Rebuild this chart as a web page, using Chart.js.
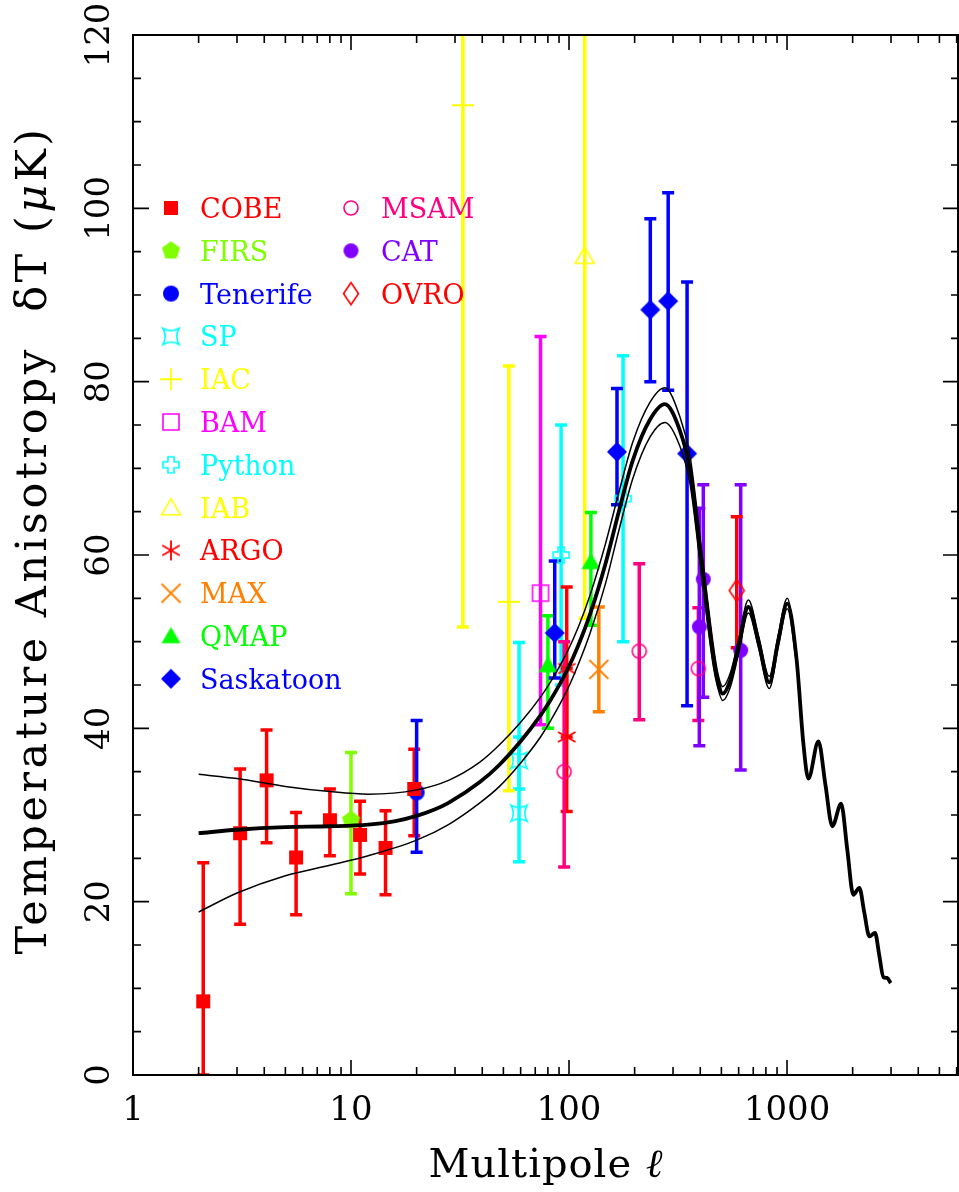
<!DOCTYPE html>
<html lang="pt-br">
<head>
<meta charset="utf-8">
<title>Anisotropia da radiação cósmica de fundo</title>
<script src="https://cdn.jsdelivr.net/npm/chart.js@4.4.1/dist/chart.umd.min.js"></script>
<style>
    body { margin: 0; background: #ffffff; overflow: hidden; }
    canvas { display: block; }
</style>
</head>
<body>
<canvas id="grafico" width="959" height="1192"></canvas>
<script>
    // Dados: [multipolo l, dT, limite inferior, limite superior] (μK)
    var COBE = [[2.1, 8.5, 0, 24.5], [3.1, 27.9, 17.4, 35.3], [4.1, 34.0, 26.8, 39.8], [5.6, 25.1, 18.5, 30.3],
                [8.0, 29.4, 25.3, 33.0], [11.0, 27.7, 23.2, 31.6], [14.4, 26.2, 20.8, 30.5], [19.5, 33.0, 27.6, 37.6]];
    var FIRS = [[10, 29.4, 20.9, 37.2]];
    var TENERIFE = [[20, 32.6, 25.7, 40.9]];
    var SP = [[59, 30.2, 24.6, 49.9], [59, 36.3, 33.0, 39.0]];
    var IAC = [[32.6, 111.9, 51.7, 140], [53, 54.6, 32.8, 81.8]];
    var BAM = [[74, 55.6, 40.4, 85.2]];
    var PYTHON = [[92, 60.0, 45.0, 75.0], [177, 66.5, 50.0, 83.0]];
    var IAB = [[118, 94.5, 52.7, 140]];
    var ARGO = [[97.6, 39.0, 30.4, 46.9], [97.6, 46.9, 39.0, 56.3]];
    var MAX = [[137, 46.8, 41.9, 54.0]];
    var QMAP = [[80, 47.3, 40.0, 53.0], [126, 59.2, 51.9, 64.9]];
    var SASKATOON = [[86, 51.0, 45.8, 59.3], [166, 71.9, 65.8, 79.2], [236, 88.3, 80.0, 98.8],
                     [285, 89.3, 79.0, 101.8], [348, 71.7, 42.6, 91.5]];
    var MSAM = [[95, 35.0, 24.0, 50.0], [210, 48.9, 41.0, 59.0], [392, 46.9, 40.9, 53.9]];
    var CAT = [[396, 51.7, 38.0, 65.4], [413, 57.2, 43.6, 68.1], [613, 49.0, 35.2, 68.1]];
    var OVRO = [[588, 55.9, 49.3, 64.4]];

    // Curva teórica (linha grossa) e faixa (linhas finas)
    var teoriaL = [2, 3, 5, 8, 12, 16, 20, 24, 28, 39, 48, 60, 74, 82, 98, 110, 125, 147, 170, 196, 235, 275,
                   322, 359, 406, 459, 480, 507, 550, 598, 665, 740, 829, 910, 1003, 1107, 1188, 1253, 1393, 1500, 1614, 1770,
                   1890, 2014, 2147, 2260, 2387, 2533, 2650, 2766, 2880, 2990];
    var teoriaT = [27.9, 28.3, 28.6, 28.7, 28.9, 29.3, 29.9, 30.6, 31.4, 33.8, 35.8, 38.5, 41.5, 43.2, 46.7, 49.5, 53.2, 59.0, 65.2, 70.9, 75.6, 77.4,
                   74.4, 69.8, 59.0, 48.3, 45.6, 44.0, 45.6, 49.3, 54.0, 50.0, 45.3, 50.0, 54.4, 47.9, 38.3, 34.2, 38.5, 33.5, 28.7, 31.3,
                   26.0, 20.8, 21.6, 18.8, 16.0, 16.4, 13.8, 11.3, 11.2, 10.6];
    var faixaL = [2, 3, 5, 8, 12, 20, 28, 39, 48, 60, 74, 82, 98, 110, 125, 147, 170, 196, 235, 275,
                  322, 359, 406, 459, 480, 507, 550, 598, 665, 740, 829, 910, 1003, 1107];
    var faixaSup = [34.7, 34.2, 33.3, 32.7, 32.4, 32.9, 34.0, 36.1, 38.1, 40.7, 43.6, 45.3, 48.8, 51.6, 55.4, 61.3, 67.4, 73.0, 77.6, 79.3,
                    76.0, 71.4, 60.5, 49.6, 46.5, 44.8, 46.4, 50.1, 54.8, 50.7, 46.0, 50.7, 55.0, 48.3];
    var faixaInf = [18.8, 21.0, 23.0, 24.2, 25.3, 27.1, 28.9, 31.4, 33.3, 36.0, 39.0, 40.8, 44.4, 47.3, 51.0, 56.7, 63.0, 68.8, 73.6, 75.3,
                    72.6, 68.2, 57.5, 47.2, 44.8, 43.2, 44.8, 48.5, 53.3, 49.3, 44.6, 49.3, 53.8, 47.5];

    var rotulosX = ['1', '10', '100', '1000'];
    var valoresX = [1, 10, 100, 1000];
    var rotulosY = ['0', '20', '40', '60', '80', '100', '120'];
    var valoresY = [0, 20, 40, 60, 80, 100, 120];

    var xMin = 1, xMax = 6150, yMin = 0, yMax = 120;
    var fonte = '"DejaVu Serif", "Liberation Serif", serif';

    // Desenha um marcador num canvas pequeno (usado como pointStyle e na legenda)
    function criaMarcador(forma, cor, tam, cheio, esp) {
        var pad = 4;
        var w = Math.ceil(tam + pad * 2);
        var c = document.createElement('canvas');
        c.width = w; c.height = w;
        var g = c.getContext('2d');
        var m = w / 2, r = tam / 2, i, a;
        g.strokeStyle = cor;
        g.fillStyle = cor;
        g.lineWidth = esp || 1.6;
        g.beginPath();
        if (forma == 'quadrado') {
            g.rect(m - r, m - r, tam, tam);
        } else if (forma == 'circulo') {
            g.arc(m, m, r, 0, Math.PI * 2);
        } else if (forma == 'pentagono') {
            for (i = 0; i < 5; i++) {
                a = -Math.PI / 2 + i * 2 * Math.PI / 5;
                if (i == 0) g.moveTo(m + r * Math.cos(a), m + r * Math.sin(a));
                else g.lineTo(m + r * Math.cos(a), m + r * Math.sin(a));
            }
            g.closePath();
        } else if (forma == 'triangulo') {
            var h = tam * 0.85;
            g.moveTo(m, m - h * 0.55);
            g.lineTo(m + r, m + h * 0.45);
            g.lineTo(m - r, m + h * 0.45);
            g.closePath();
        } else if (forma == 'losango') {
            g.moveTo(m, m - r); g.lineTo(m + r, m); g.lineTo(m, m + r); g.lineTo(m - r, m);
            g.closePath();
        } else if (forma == 'losangoAlto') {
            g.moveTo(m, m - r); g.lineTo(m + r * 0.68, m); g.lineTo(m, m + r); g.lineTo(m - r * 0.68, m);
            g.closePath();
        } else if (forma == 'mais') {
            g.moveTo(m - r, m); g.lineTo(m + r, m);
            g.moveTo(m, m - r); g.lineTo(m, m + r);
        } else if (forma == 'xis') {
            g.moveTo(m - r, m - r); g.lineTo(m + r, m + r);
            g.moveTo(m + r, m - r); g.lineTo(m - r, m + r);
        } else if (forma == 'asterisco') {
            g.moveTo(m, m - r); g.lineTo(m, m + r);
            g.moveTo(m - r * 0.87, m - r * 0.5); g.lineTo(m + r * 0.87, m + r * 0.5);
            g.moveTo(m + r * 0.87, m - r * 0.5); g.lineTo(m - r * 0.87, m + r * 0.5);
        } else if (forma == 'estrelaSP') {
            var k = r * 0.55;
            g.moveTo(m - r, m - r);
            g.quadraticCurveTo(m, m - r + k, m + r, m - r);
            g.quadraticCurveTo(m + r - k, m, m + r, m + r);
            g.quadraticCurveTo(m, m + r - k, m - r, m + r);
            g.quadraticCurveTo(m - r + k, m, m - r, m - r);
            g.closePath();
        } else if (forma == 'cruz') {
            a = r * 0.38;
            g.moveTo(m - a, m - r); g.lineTo(m + a, m - r); g.lineTo(m + a, m - a); g.lineTo(m + r, m - a);
            g.lineTo(m + r, m + a); g.lineTo(m + a, m + a); g.lineTo(m + a, m + r); g.lineTo(m - a, m + r);
            g.lineTo(m - a, m + a); g.lineTo(m - r, m + a); g.lineTo(m - r, m - a); g.lineTo(m - a, m - a);
            g.closePath();
        }
        if (cheio) g.fill(); else g.stroke();
        return c;
    }

    // Experimentos: nome, dados, cor, marcador, posição na legenda [coluna, linha]
    var experimentos = [
        { nome: 'COBE', dados: COBE, cor: '#ff0000', marca: criaMarcador('quadrado', '#ff0000', 14, true), leg: [0, 0] },
        { nome: 'FIRS', dados: FIRS, cor: '#80ff00', marca: criaMarcador('pentagono', '#80ff00', 19, true), leg: [0, 1] },
        { nome: 'Tenerife', dados: TENERIFE, cor: '#0000ff', marca: criaMarcador('circulo', '#0000ff', 16, true), leg: [0, 2] },
        { nome: 'SP', dados: SP, cor: '#00ffff', marca: criaMarcador('estrelaSP', '#00ffff', 16), leg: [0, 3] },
        { nome: 'IAC', dados: IAC, cor: '#ffff00', marca: criaMarcador('mais', '#ffff00', 22, false, 1.8), leg: [0, 4] },
        { nome: 'BAM', dados: BAM, cor: '#ff00ff', marca: criaMarcador('quadrado', '#ff00ff', 16), leg: [0, 5] },
        { nome: 'Python', dados: PYTHON, cor: '#00ffff', marca: criaMarcador('cruz', '#00ffff', 16), leg: [0, 6] },
        { nome: 'IAB', dados: IAB, cor: '#ffff00', marca: criaMarcador('triangulo', '#ffff00', 19), leg: [0, 7] },
        { nome: 'ARGO', dados: ARGO, cor: '#ff0000', marca: criaMarcador('asterisco', '#ff0000', 20, false, 1.8), leg: [0, 8] },
        { nome: 'MAX', dados: MAX, cor: '#ff8000', marca: criaMarcador('xis', '#ff8000', 19, false, 1.8), leg: [0, 9] },
        { nome: 'QMAP', dados: QMAP, cor: '#00ff00', marca: criaMarcador('triangulo', '#00ff00', 19, true), leg: [0, 10] },
        { nome: 'Saskatoon', dados: SASKATOON, cor: '#0000ff', marca: criaMarcador('losango', '#0000ff', 20, true), leg: [0, 11] },
        { nome: 'MSAM', dados: MSAM, cor: '#ff0080', marca: criaMarcador('circulo', '#ff0080', 14), leg: [1, 0] },
        { nome: 'CAT', dados: CAT, cor: '#8000ff', marca: criaMarcador('circulo', '#8000ff', 15, true), leg: [1, 1] },
        { nome: 'OVRO', dados: OVRO, cor: '#ff0000', marca: criaMarcador('losangoAlto', '#ff0000', 22), leg: [1, 2] }
    ];

    var datasets = [];
    experimentos.forEach(function(e) {
        datasets.push({
            label: e.nome,
            data: e.dados.map(function(p) { return { x: p[0], y: p[1], lo: p[2], hi: p[3] }; }),
            pointStyle: e.marca,
            pointRadius: 8,
            cor: e.cor,
            erro: true,
            order: 2
        });
    });

    function serie(ls, ts) {
        return ls.map(function(l, i) { return { x: l, y: ts[i] }; });
    }
    datasets.push({ label: 'faixa sup', data: serie(faixaL, faixaSup), showLine: true, borderColor: '#000', borderWidth: 1.5,
                    pointRadius: 0, cubicInterpolationMode: 'monotone', order: 0 });
    datasets.push({ label: 'faixa inf', data: serie(faixaL, faixaInf), showLine: true, borderColor: '#000', borderWidth: 1.5,
                    pointRadius: 0, cubicInterpolationMode: 'monotone', order: 0 });
    datasets.push({ label: 'teoria', data: serie(teoriaL, teoriaT), showLine: true, borderColor: '#000', borderWidth: 3.8,
                    pointRadius: 0, cubicInterpolationMode: 'monotone', order: 0 });

    // Barras de erro (desenhadas antes dos pontos)
    var barrasErro = {
        id: 'barrasErro',
        beforeDatasetsDraw: function(chart) {
            var ctx = chart.ctx, a = chart.chartArea;
            var sx = chart.scales.x, sy = chart.scales.y;
            ctx.save();
            ctx.beginPath();
            ctx.rect(a.left, a.top, a.right - a.left, a.bottom - a.top);
            ctx.clip();
            ctx.lineWidth = 3.5;
            chart.data.datasets.forEach(function(ds) {
                if (!ds.erro) return;
                ctx.strokeStyle = ds.cor;
                ds.data.forEach(function(p) {
                    var x = sx.getPixelForValue(p.x);
                    var y1 = sy.getPixelForValue(p.lo);
                    var y2 = sy.getPixelForValue(p.hi);
                    ctx.beginPath();
                    ctx.moveTo(x, y1); ctx.lineTo(x, y2);
                    ctx.moveTo(x - 6, y1); ctx.lineTo(x + 6, y1);
                    ctx.moveTo(x - 6, y2); ctx.lineTo(x + 6, y2);
                    ctx.stroke();
                });
            });
            ctx.restore();
        }
    };

    // Texto com partes em itálico, centrado em x
    function textoMisto(ctx, partes, tam, x, y, espaco) {
        var total = 0;
        ctx.letterSpacing = (espaco || 0) + 'px';
        partes.forEach(function(p) {
            ctx.font = (p[1] ? 'italic ' : '') + tam + 'px ' + fonte;
            total += ctx.measureText(p[0]).width;
        });
        var cx = x - total / 2;
        ctx.textAlign = 'left';
        partes.forEach(function(p) {
            ctx.font = (p[1] ? 'italic ' : '') + tam + 'px ' + fonte;
            ctx.fillText(p[0], cx, y);
            cx += ctx.measureText(p[0]).width;
        });
        ctx.letterSpacing = '0px';
    }

    // Moldura, marcas dos eixos, rótulos e legenda
    var moldura = {
        id: 'moldura',
        afterDraw: function(chart) {
            var ctx = chart.ctx, a = chart.chartArea;
            var sx = chart.scales.x, sy = chart.scales.y;
            var d, k, v, px, py, len, i;
            ctx.save();
            ctx.strokeStyle = '#000';
            ctx.lineWidth = 2;
            ctx.strokeRect(a.left, a.top, a.right - a.left - 1, a.bottom - a.top);

            ctx.lineWidth = 1.6;
            ctx.beginPath();
            for (d = 1; d <= 1000; d *= 10) {
                for (k = 1; k <= 9; k++) {
                    v = d * k;
                    if (v > xMax) break;
                    px = sx.getPixelForValue(v);
                    len = k == 1 ? 15 : 8;
                    ctx.moveTo(px, a.bottom); ctx.lineTo(px, a.bottom - len);
                    ctx.moveTo(px, a.top); ctx.lineTo(px, a.top + len);
                }
            }
            for (v = yMin; v <= yMax; v += 5) {
                py = sy.getPixelForValue(v);
                len = v % 20 == 0 ? 16 : 8;
                ctx.moveTo(a.left, py); ctx.lineTo(a.left + len, py);
                ctx.moveTo(a.right, py); ctx.lineTo(a.right - len, py);
            }
            ctx.stroke();

            ctx.fillStyle = '#000';
            ctx.textAlign = 'center';
            ctx.textBaseline = 'middle';
            ctx.font = '34px ' + fonte;
            for (i = 0; i < valoresX.length; i++) {
                ctx.fillText(rotulosX[i], sx.getPixelForValue(valoresX[i]), a.bottom + 36);
            }
            for (i = 0; i < valoresY.length; i++) {
                ctx.save();
                ctx.translate(a.left - 33, sy.getPixelForValue(valoresY[i]));
                ctx.rotate(-Math.PI / 2);
                ctx.fillText(rotulosY[i], 0, 0);
                ctx.restore();
            }

            // títulos dos eixos
            textoMisto(ctx, [['Multipole ', false], ['\u2113', true]], 40, (a.left + a.right) / 2, a.bottom + 92, 1);
            ctx.save();
            ctx.translate(35, 540);
            ctx.rotate(-Math.PI / 2);
            textoMisto(ctx, [['Temperature Anisotropy  \u03b4T (', false], ['\u03bc', true], ['K)', false]], 43, 0, 0, 3.5);
            ctx.restore();

            // legenda
            ctx.font = '27px ' + fonte;
            ctx.textAlign = 'left';
            ctx.textBaseline = 'alphabetic';
            var colMarca = [a.left + 38, a.left + 218];
            var colTexto = [a.left + 67, a.left + 248];
            experimentos.forEach(function(e) {
                var y = a.top + 173 + e.leg[1] * 42.8;
                var mx = colMarca[e.leg[0]];
                ctx.drawImage(e.marca, mx - e.marca.width / 2, y - e.marca.height / 2);
                ctx.fillStyle = e.cor;
                ctx.fillText(e.nome, colTexto[e.leg[0]], y + 10);
            });
            ctx.restore();
        }
    };

    var grafico = new Chart(document.getElementById('grafico').getContext('2d'), {
        type: 'scatter',
        data: { datasets: datasets },
        options: {
            responsive: false,
            animation: false,
            devicePixelRatio: 1,
            layout: { autoPadding: false, padding: { left: 133, top: 35, right: 0, bottom: 117 } },
            plugins: { legend: { display: false }, tooltip: { enabled: false } },
            scales: {
                x: { type: 'logarithmic', min: xMin, max: xMax, display: false },
                y: { type: 'linear', min: yMin, max: yMax, display: false }
            }
        },
        plugins: [barrasErro, moldura]
    });
</script>
</body>
</html>
